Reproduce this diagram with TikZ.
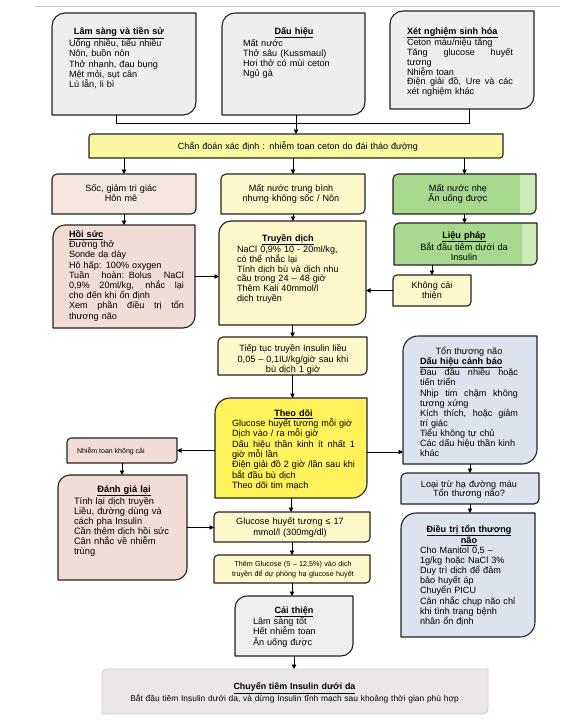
\documentclass[tikz,border=0pt]{standalone}
\usepackage{fontspec}
\setmainfont{Liberation Sans}
\usetikzlibrary{arrows.meta}
\definecolor{cGray}{HTML}{EEEEEE}
\definecolor{cDiag}{HTML}{FAF7A0}
\definecolor{cPink}{HTML}{F5E6DF}
\definecolor{cPinkB}{HTML}{F2DDD6}
\definecolor{cLY}{HTML}{FCF8C9}
\definecolor{cYel}{HTML}{FFF35C}
\definecolor{cGreen}{HTML}{A8D88E}
\definecolor{cGreenL}{HTML}{CDEBB4}
\definecolor{cBlue}{HTML}{DCE2EE}
\definecolor{cCi}{HTML}{EFEFEF}
\definecolor{cFin}{HTML}{EBE7E7}
\definecolor{cLine}{HTML}{222222}
\definecolor{cFinLine}{HTML}{CFCFCF}
\newcommand{\dpath}[2]{([yshift=-#2pt]#1.north west) .. controls ([yshift=-0.448*#2pt]#1.north west) and ([xshift=0.448*#2pt]#1.north west) .. ([xshift=#2pt]#1.north west) -- (#1.north east) -- ([yshift=#2pt]#1.south east) .. controls ([yshift=0.448*#2pt]#1.south east) and ([xshift=-0.448*#2pt]#1.south east) .. ([xshift=-#2pt]#1.south east) -- (#1.south west) -- cycle}
\newcommand{\dbox}[3]{\path[fill=#3, draw=cLine, line width=1.1pt, line join=round] \dpath{#1}{#2};}
\newcommand{\bx}[5]{\node[boxn, minimum width={(#4-#2)*1pt}, minimum height={(#5-#3)*1pt}] (#1) at ({(#2+#4)/2},{(#3+#5)/2}) {};}
\newcommand{\ctl}[1]{\makebox[\linewidth]{\textbf{\underline{#1}}}\\}
\newcommand{\jl}[1]{{\spaceskip=0.25em plus 1fil\relax\makebox[\linewidth][s]{#1}}\\}
\tikzset{
  boxn/.style={inner sep=0pt, outer sep=0pt, draw=none},
  txt/.style={inner sep=0pt, outer sep=0pt, align=left, font=\fontsize{9.1}{10.2}\selectfont},
  ctxt/.style={inner sep=0pt, outer sep=0pt, align=center, font=\fontsize{9.1}{10.4}\selectfont},
  ln/.style={draw=black, line width=0.9pt},
  arr/.style={draw=black, line width=0.9pt, -{Triangle[length=4.5pt,width=4.5pt]}}
}
\begin{document}
\begin{tikzpicture}[x=1pt,y=-1pt]
\useasboundingbox (0,0) rectangle (575,720);
\fill[white] (0,0) rectangle (575,720);
\draw[gray!45, line width=0.6pt] (35,6) -- (560,6);
% box nodes
\bx{b1}{52}{13}{196}{115}
\bx{b2}{222}{13}{365}{115}
\bx{b3}{390}{11}{534}{109}
\bx{cd}{89}{134}{503}{158}
\bx{s1}{52}{174}{196}{214}
\bx{s2}{221}{174}{365}{214}
\bx{s3}{393}{174}{536}{214}
\bx{h}{53}{225}{195}{328}
\bx{t}{219}{221}{366}{325}
\bx{l}{394}{223}{537}{265}
\bx{k}{393}{275}{471}{306}
\bx{c}{218}{337}{367}{375}
\bx{td}{215}{398}{367}{498}
\bx{tn}{403}{336}{537}{464}
\bx{lt}{401}{473}{539}{504}
\bx{dtr}{401}{513}{535}{637}
\bx{nt}{67}{438}{177}{463}
\bx{dg}{58}{475}{187}{580}
\bx{gl}{214}{512}{370}{542}
\bx{tg}{214}{555}{370}{583}
\bx{ci}{235}{596}{353}{656}
\bx{fin}{102}{669}{488}{714}
% shapes
\dbox{b1}{13}{cGray}
\dbox{b2}{13}{cGray}
\dbox{b3}{13}{cGray}
\dbox{cd}{3}{cDiag}
\dbox{s1}{5}{cPink}
\dbox{s2}{5}{cLY}
\path[fill=cGreen] \dpath{s3}{5};
\begin{scope}\clip \dpath{s3}{5}; \fill[cGreenL] (520,170) rectangle (540,220);\end{scope}
\path[draw=cLine, line width=1.1pt, line join=round] \dpath{s3}{5};
\dbox{h}{12}{cPinkB}
\dbox{t}{12}{cLY}
\path[fill=cGreen] \dpath{l}{5};
\begin{scope}\clip \dpath{l}{5}; \fill[cGreenL] (522,220) rectangle (540,270);\end{scope}
\path[draw=cLine, line width=1.1pt, line join=round] \dpath{l}{5};
\dbox{k}{4}{cLY}
\dbox{c}{5}{cLY}
\dbox{td}{15}{cYel}
\dbox{tn}{15}{cBlue}
\dbox{lt}{5}{cBlue}
\dbox{dtr}{15}{cBlue}
\dbox{nt}{4}{cPinkB}
\dbox{dg}{12}{cPinkB}
\dbox{gl}{4}{cLY}
\dbox{tg}{4}{cLY}
\dbox{ci}{12}{cCi}
\path[fill=cFin, draw=cFinLine, line width=0.9pt] \dpath{fin}{5};
% texts
\node[txt, text width=100pt, anchor=base west] (b1x) at (69,34.5) {\ctl{Lâm sàng và tiền sử}Uống nhiều, tiểu nhiều\\Nôn, buồn nôn\\Thở nhanh, đau bụng\\Mệt mỏi, sụt cân\\Lú lẫn, li bì};
\node[txt, text width=102pt, anchor=base west] (b2x) at (243,34.5) {\ctl{Dấu hiệu}Mất nước\\Thở sâu (Kussmaul)\\Hơi thở có mùi ceton\\Ngủ gà};
\node[txt, text width=106pt, anchor=base west, font=\fontsize{9.1}{9.8}\selectfont] (b3x) at (407,34) {\textbf{\underline{Xét nghiệm sinh hóa}}\\Ceton máu/niệu tăng\\\jl{Tăng glucose huyết}tương\\Nhiễm toan\\\jl{Điện giải đồ, Ure và các}xét nghiệm khác};
\node[ctxt, text width=400pt, anchor=base, font=\fontsize{9}{10}\selectfont] (cdx) at (298,149.5) {Chẩn đoán xác định : nhiễm toan ceton do đái tháo đường};
\node[ctxt, text width=130pt, anchor=base] (s1x) at (121,191) {Sốc, giảm tri giác\\Hôn mê};
\node[ctxt, text width=130pt, anchor=base] (s2x) at (291,191) {Mất nước trung bình\\nhưng không sốc / Nôn};
\node[ctxt, text width=120pt, anchor=base] (s3x) at (458,191) {Mất nước nhẹ\\Ăn uống được};
\node[txt, text width=115pt, anchor=base west] (hx) at (69,237.5) {\textbf{\underline{Hồi sức}}\\Đường thở\\Sonde dạ dày\\Hô hấp: 100\% oxygen\\\jl{Tuần hoàn: Bolus NaCl}\jl{0,9\% 20ml/kg, nhắc lại}cho đến khi ổn định\\\jl{Xem phần điều trị tổn}thương não};
\node[txt, text width=110pt, anchor=base west, font=\fontsize{9.1}{9.8}\selectfont] (tx) at (237,241) {\makebox[102pt]{\textbf{\underline{Truyền dịch}}}\\NaCl 0,9\% 10 - 20ml/kg,\\có thể nhắc lại\\Tính dịch bù và dịch nhu\\cầu trong 24 – 48 giờ\\Thêm Kali 40mmol/l\\dịch truyền};
\node[ctxt, text width=130pt, anchor=base, font=\fontsize{9.1}{10}\selectfont] (lx) at (464,238) {\textbf{\underline{Liệu pháp}}\\Bắt đầu tiêm dưới da\\Insulin};
\node[ctxt, text width=70pt, anchor=base] (kx) at (432,288) {Không cải\\thiện};
\node[ctxt, text width=145pt, anchor=base, font=\fontsize{9.1}{10.5}\selectfont] (cx) at (293,351.5) {Tiếp tục truyền Insulin liều\\0,05 – 0,1IU/kg/giờ sau khi\\bù dịch 1 giờ};
\node[txt, text width=123pt, anchor=base west, font=\fontsize{9.1}{10.3}\selectfont] (tdx) at (232,416.3) {\ctl{Theo dõi}Glucose huyết tương mỗi giờ\\Dịch vào / ra mỗi giờ\\\jl{Dấu hiệu thần kinh ít nhất 1}giờ mỗi lần\\\jl{Điện giải đồ 2 giờ /lần sau khi}bắt đầu bù dịch\\Theo dõi tim mạch};
\node[txt, text width=98pt, anchor=base west, font=\fontsize{9.1}{10.15}\selectfont] (tnx) at (420,354) {\makebox[\linewidth]{Tổn thương não}\\\textbf{\underline{Dấu hiệu cảnh báo}}\\\jl{Đau đầu nhiều hoặc}tiến triển\\\jl{Nhịp tim chậm không}tương xứng\\\jl{Kích thích, hoặc giảm}trí giác\\Tiểu không tự chủ\\Các dấu hiệu thần kinh\\khác};
\node[ctxt, text width=130pt, anchor=base, font=\fontsize{9.1}{9.5}\selectfont] (ltx) at (469,487.3) {Loại trừ hạ đường máu\\Tổn thương não?};
\node[txt, text width=98pt, anchor=base west, font=\fontsize{9.1}{10.1}\selectfont] (dtrx) at (420,532) {\ctl{Điều trị tổn thương}\ctl{não}Cho Manitol 0,5 –\\1g/kg hoặc NaCl 3\%\\Duy trì dịch để đảm\\bảo huyết áp\\Chuyển PICU\\Cân nhắc chụp não chỉ\\khi tình trạng bệnh\\nhân ổn định};
\node[txt, anchor=base west, font=\fontsize{7}{8}\selectfont] (ntx) at (77,453.5) {Nhiễm toan không cải};
\node[txt, text width=100pt, anchor=base west, font=\fontsize{9.3}{10}\selectfont] (dgx) at (74,492.3) {\ctl{Đánh giá lại}Tính lại dịch truyền\\Liều, đường dùng và\\cách pha Insulin\\Cần thêm dịch hồi sức\\Cân nhắc về nhiễm\\trùng};
\node[ctxt, text width=150pt, anchor=base, font=\fontsize{9.1}{10.7}\selectfont] (glx) at (290,524.5) {Glucose huyết tương ≤ 17\\mmol/l (300mg/dl)};
\node[ctxt, text width=150pt, anchor=base, font=\fontsize{7.2}{10}\selectfont] (tgx) at (293,566) {Thêm Glucose (5 – 12,5\%) vào dịch\\truyền để dự phòng hạ glucose huyết};
\node[txt, text width=82pt, anchor=base west, font=\fontsize{9.1}{10.3}\selectfont] (cix) at (253,613) {\ctl{Cải thiện}Lâm sàng tốt\\Hết nhiễm toan\\Ăn uống được};
\node[ctxt, text width=390pt, anchor=base, font=\fontsize{8.4}{10.5}\selectfont] (finx) at (294.5,689.5) {{\fontsize{8.9}{10.5}\selectfont\textbf{\underline{Chuyển tiêm Insulin dưới da}}}\\Bắt đầu tiêm Insulin dưới da, và dừng Insulin tĩnh mạch sau khoảng thời gian phù hợp};
% connectors
\coordinate (j1) at (296,123);
\draw[ln] ([xshift=-8pt]b1.south) |- (j1);
\draw[ln] ([xshift=7pt]b3.south) |- (j1);
\draw[arr] (b2.south -| cd.north) -- (cd.north);
\draw[arr] (cd.south -| s1.north) -- (s1.north);
\draw[arr] (cd.south -| s2.north) -- (s2.north);
\draw[arr] (cd.south -| s3.north) -- (s3.north);
\draw[arr] (s1.south) -- (s1.south |- h.north);
\draw[arr] (s2.south) -- (s2.south |- t.north);
\draw[arr] (s3.south) -- (s3.south |- l.north);
\draw[arr] (l.south -| k.north) -- (k.north);
\draw[arr] (h.east) -- (h.east -| t.west);
\draw[arr] (k.west) -- (k.west -| t.east);
\draw[arr] (t.south) -- (t.south |- c.north);
\draw[arr] (c.south) -- (c.south |- td.north);
\draw[arr] ([yshift=-4pt]td.east) -- ([yshift=-4pt]td.east -| tn.west);
\draw[arr] (nt.east -| td.west) -- (nt.east);
\draw[arr] (tn.south) -- (tn.south |- lt.north);
\draw[arr] (lt.south) -- (lt.south |- dtr.north);
\draw[arr] (nt.south) -- (nt.south |- dg.north);
\draw[arr] (dg.east) -- (dg.east -| gl.west);
\draw[arr] (td.south) -- (td.south |- gl.north);
\draw[arr] (gl.south) -- (gl.south |- tg.north);
\draw[arr] (tg.south) -- (tg.south |- ci.north);
\draw[arr] (ci.south) -- (ci.south |- fin.north);
\end{tikzpicture}
\end{document}
